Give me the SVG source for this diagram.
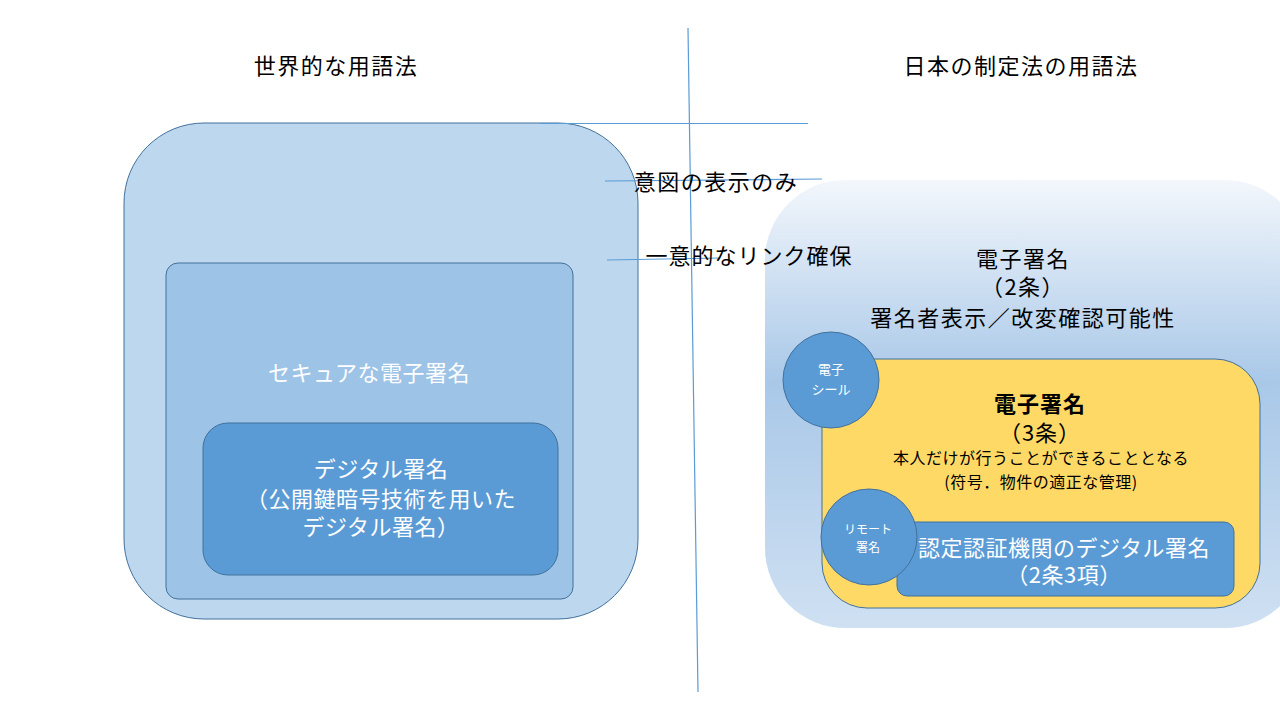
<svg xmlns="http://www.w3.org/2000/svg" width="1280" height="720" viewBox="0 0 1280 720">
<defs>
<linearGradient id="gRight" x1="0" y1="0" x2="0" y2="1">
<stop offset="0" stop-color="#F3F7FC"/>
<stop offset="0.45" stop-color="#A9C8E8"/>
<stop offset="1" stop-color="#CFE0F2"/>
</linearGradient>
<style>
text{font-family:"Noto Sans CJK JP","Liberation Sans",sans-serif;text-anchor:middle;}
.blk{fill:#000;font-size:22px;letter-spacing:1px;}
.wht{fill:#fff;font-size:22px;letter-spacing:0.5px;}
.ttl{fill:#000;font-size:22px;letter-spacing:1.5px;}
.sm{fill:#000;font-size:16px;letter-spacing:0.5px;}
.box{stroke:#41719C;stroke-width:1;}
.ln{stroke:#5B9BD5;stroke-width:1.2;fill:none;}
</style>
</defs>
<rect width="1280" height="720" fill="#fff"/>
<g id="left-outer"><rect class="box" x="124" y="123" width="514" height="496" rx="80" fill="#BDD7EE"/></g>
<g id="left-secure"><rect class="box" x="166" y="263" width="407" height="336" rx="12" fill="#9DC3E6"/>
<text class="wht" x="369" y="381">セキュアな電子署名</text></g>
<g id="left-digital"><rect class="box" x="203" y="423" width="355" height="152" rx="25" fill="#5B9BD5"/>
<text class="wht" x="381" y="477">デジタル署名</text>
<text class="wht" x="381" y="507">（公開鍵暗号技術を用いた</text>
<text class="wht" x="381" y="535">デジタル署名）</text></g>
<g id="right-outer"><rect x="765" y="180" width="540" height="448" rx="80" fill="url(#gRight)"/>
<text class="ttl" x="1023" y="267">電子署名</text>
<text class="ttl" x="1023" y="295">（2条）</text>
<text class="ttl" x="1023" y="326">署名者表示／改変確認可能性</text></g>
<g id="right-yellow"><rect class="box" x="822" y="359" width="438" height="249" rx="45" fill="#FFD966"/>
<text class="blk" x="1040" y="412" font-weight="bold">電子署名</text>
<text class="blk" x="1040" y="441">（3条）</text>
<text class="sm" x="1041" y="464">本人だけが行うことができることとなる</text>
<text class="sm" x="1041" y="488">(符号．物件の適正な管理)</text></g>
<g id="right-cert"><rect class="box" x="897" y="522" width="337" height="74" rx="10" fill="#5B9BD5"/>
<text class="wht" x="1064" y="556">認定認証機関のデジタル署名</text>
<text class="wht" x="1064" y="583">（2条3項）</text></g>
<g id="seal"><circle class="box" cx="831" cy="380" r="48" fill="#5B9BD5"/>
<text x="831" y="374" fill="#fff" font-size="13">電子</text>
<text x="831" y="394" fill="#fff" font-size="13">シール</text></g>
<g id="remote"><circle class="box" cx="869" cy="537" r="48" fill="#5B9BD5"/>
<text x="868" y="534" fill="#fff" font-size="12">リモート</text>
<text x="868" y="552" fill="#fff" font-size="12">署名</text></g>
<g id="connectors">
<line class="ln" x1="540" y1="123.5" x2="808" y2="123.5"/>
<line class="ln" x1="605" y1="181" x2="822" y2="179"/>
<line class="ln" x1="607" y1="260" x2="720" y2="258"/>
<line class="ln" x1="688" y1="28" x2="698" y2="692"/>
</g>
<g id="labels">
<text class="ttl" x="336" y="74">世界的な用語法</text>
<text class="ttl" x="1021" y="74">日本の制定法の用語法</text>
<text class="ttl" x="716" y="190">意図の表示のみ</text>
<text class="blk" x="749" y="264">一意的なリンク確保</text>
</g>
</svg>
